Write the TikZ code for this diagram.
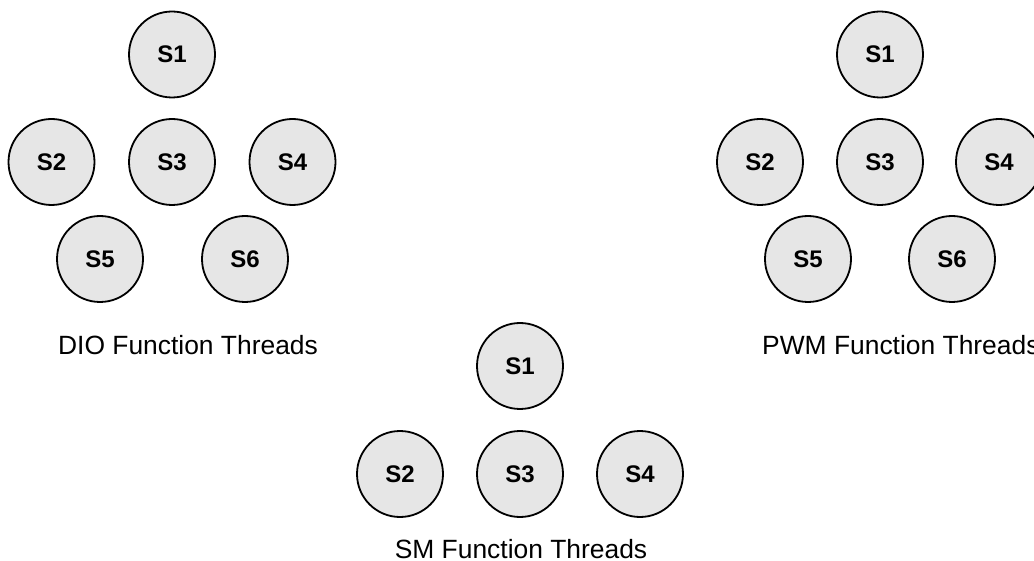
\documentclass[tikz,border=0pt]{standalone}
\usepackage{fontspec}
\setmainfont{Liberation Sans}
\definecolor{cfill}{HTML}{E6E6E6}
\begin{document}
\begin{tikzpicture}[x=1pt,y=-1pt,
  thread/.style={circle,draw=black,fill=cfill,line width=1.8pt,minimum size=86pt,inner sep=0pt,font=\fontsize{24}{28}\selectfont\bfseries},
  grouplabel/.style={inner sep=0pt,font=\fontsize{26.4}{30}\selectfont}]
\useasboundingbox (0,0) rectangle (1034,561);
% DIO group
\node[thread] (d1) at (172,54.5) {S1};
\node[thread] (d2) at (51.5,162) {S2};
\node[thread] (d3) at (172,162) {S3};
\node[thread] (d4) at (292.5,162) {S4};
\node[thread] (d5) at (100,259) {S5};
\node[thread] (d6) at (245,259) {S6};
\node[grouplabel,anchor=base] (dio) at (188,355) {DIO Function Threads};
% PWM group
\node[thread] (p1) at (880,54.5) {S1};
\node[thread] (p2) at (760,162) {S2};
\node[thread] (p3) at (880,162) {S3};
\node[thread] (p4) at (999,162) {S4};
\node[thread] (p5) at (808,259) {S5};
\node[thread] (p6) at (952,259) {S6};
\node[grouplabel,anchor=base west] (pwm) at (762,355) {PWM Function Threads};
% SM group
\node[thread] (m1) at (520,366) {S1};
\node[thread] (m2) at (400,474) {S2};
\node[thread] (m3) at (520,474) {S3};
\node[thread] (m4) at (640,474) {S4};
\node[grouplabel,anchor=base] (sm) at (521,558) {SM Function Threads};
\end{tikzpicture}
\end{document}
